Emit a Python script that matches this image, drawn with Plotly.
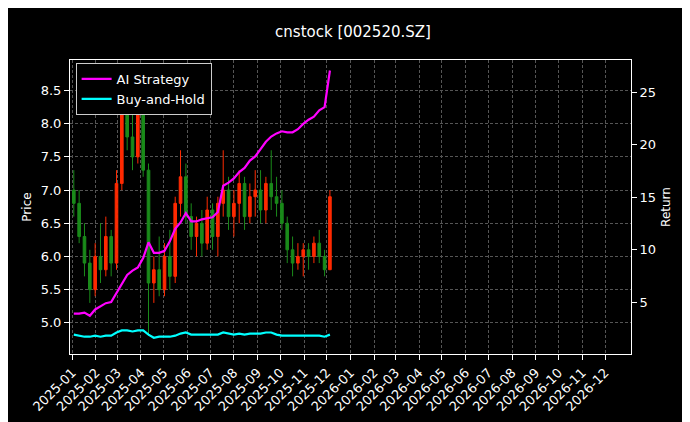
import pandas as pd
import plotly.graph_objects as go

dates = list(pd.date_range("2025-01-03", periods=49, freq="7D"))
opens  = [7.0,6.8,6.3,5.9,5.5, 6.0,5.8,6.3,5.9, 7.1,8.2,7.8,7.5, 8.4,7.3,5.6,5.8, 5.5,6.0,5.7,6.8,7.2,
          6.6,6.3,6.5,6.2, 6.7,6.3,6.8,7.0, 6.6,6.8,7.1,6.6,6.9, 7.0,6.7,7.1,6.9, 6.8,6.5,6.1,5.9,6.0,
          6.1,6.0,6.2,6.0, 5.8]
highs  = [7.3,7.0,6.5,6.1,6.2, 6.5,6.6,6.4,7.3, 8.6,8.8,8.3,8.7, 8.7,7.4,6.0,6.3, 6.2,6.4,6.9,7.6,7.4,
          6.8,6.6,6.7,6.9, 6.8,6.9,7.6,7.2, 7.0,7.3,7.2,7.1,7.3, 7.3,7.2,7.6,7.2, 7.0,6.6,6.3,6.2,6.2,
          6.2,6.3,6.4,6.1, 7.0]
lows   = [6.6,6.2,5.7,5.3,5.4, 5.6,5.7,5.7,5.8, 7.0,7.6,7.3,7.4, 7.2,4.8,5.3,5.4, 5.4,5.5,5.6,6.6,6.5,
          6.1,6.0,6.0,6.1, 6.1,6.0,6.6,6.4, 6.3,6.5,6.4,6.5,6.6, 6.5,6.5,6.7,6.6, 6.4,5.9,5.7,5.8,5.7,
          5.8,5.9,5.9,5.7, 5.8]
closes = [6.8,6.3,5.9,5.5,6.0, 5.8,6.3,5.9,7.1, 8.2,7.8,7.5,8.4, 7.3,5.6,5.8,5.5, 6.0,5.7,6.8,7.2,6.6,
          6.3,6.5,6.2,6.7, 6.3,6.8,7.0,6.6, 6.8,7.1,6.6,6.9,7.0, 6.7,7.1,6.9,6.8, 6.5,6.1,5.9,6.0,6.1,
          6.0,6.2,6.0,5.8, 6.9]
ai_return = [3.9,3.9,4.0,3.7,4.3, 4.6,4.9,5.0,5.9, 6.7,7.6,8.0,8.3, 9.2,10.7,9.7,9.7,
             9.9,10.8,12.0,12.6,13.5, 12.7,12.7,12.9,13.0, 13.1,13.6,16.1,16.4,
             16.8,17.4,17.8,18.5,18.9, 19.6,20.3,20.8,21.1, 21.3,21.2,21.2,21.5,22.0,
             22.4,22.7,23.3,23.6, 27.1]
bh_return = [1.9,1.8,1.7,1.7,1.8, 1.7,1.8,1.8,2.1, 2.3,2.3,2.2,2.3, 2.3,1.9,1.6,1.7,
             1.7,1.7,1.8,2.0,2.1, 1.9,1.9,1.9,1.9, 1.9,1.9,2.1,2.0,
             1.9,2.0,1.9,2.0,2.0, 2.0,2.1,2.1,1.9, 1.8,1.8,1.8,1.8,1.8,
             1.8,1.8,1.8,1.7, 1.9]
tick_vals = list(pd.date_range("2025-01-01", "2026-12-01", freq="MS"))
tick_text = [d.strftime("%Y-%m") for d in tick_vals]

fig = go.Figure()
fig.add_trace(go.Candlestick(x=dates, open=opens, high=highs, low=lows, close=closes,
    increasing=dict(line=dict(color="#ff2a00", width=1), fillcolor="#ff2a00"),
    decreasing=dict(line=dict(color="#1a8a1a", width=1), fillcolor="#1a8a1a"),
    whiskerwidth=0, showlegend=False, yaxis="y"))
fig.add_trace(go.Scatter(x=dates, y=ai_return, mode="lines", name="AI Strategy",
    line=dict(color="#ff00ff", width=2.2), yaxis="y2"))
fig.add_trace(go.Scatter(x=dates, y=bh_return, mode="lines", name="Buy-and-Hold",
    line=dict(color="#00ffff", width=2.2), yaxis="y2"))

grid = dict(showgrid=True, gridcolor="#555555", griddash="3px,2px", gridwidth=0.5)
fig.update_layout(
    width=690, height=422, paper_bgcolor="black", plot_bgcolor="black",
    font=dict(family="DejaVu Sans", color="white", size=13),
    title=dict(text="cnstock [002520.SZ]", x=0.5, xanchor="center", y=0.955, font=dict(size=15)),
    margin=dict(l=62, r=67, t=52, b=76, autoexpand=False),
    xaxis=dict(range=["2024-12-29", "2027-01-04"], tickvals=tick_vals, ticktext=tick_text,
               tickangle=-45, rangeslider=dict(visible=False), showline=True, linecolor="white",
               mirror=True, ticks="outside", tickcolor="white", **grid),
    yaxis=dict(title=dict(text="Price", standoff=6, font=dict(size=12)), range=[4.53, 8.96],
               tickvals=[5,5.5,6,6.5,7,7.5,8,8.5],
               ticktext=["5.0","5.5","6.0","6.5","7.0","7.5","8.0","8.5"], zeroline=False,
               showline=True, linecolor="white", ticks="outside", tickcolor="white", **grid),
    yaxis2=dict(title=dict(text="Return", standoff=6, font=dict(size=12)), range=[0.05, 28.1],
                overlaying="y", side="right",
                tickvals=[5,10,15,20,25], showline=True, linecolor="white", ticks="outside",
                tickcolor="white", showgrid=False, zeroline=False),
    legend=dict(x=0.01, y=0.99, xanchor="left", yanchor="top", bgcolor="black",
                bordercolor="#cccccc", borderwidth=1, font=dict(size=13)),
)
fig.write_html("out.html")
